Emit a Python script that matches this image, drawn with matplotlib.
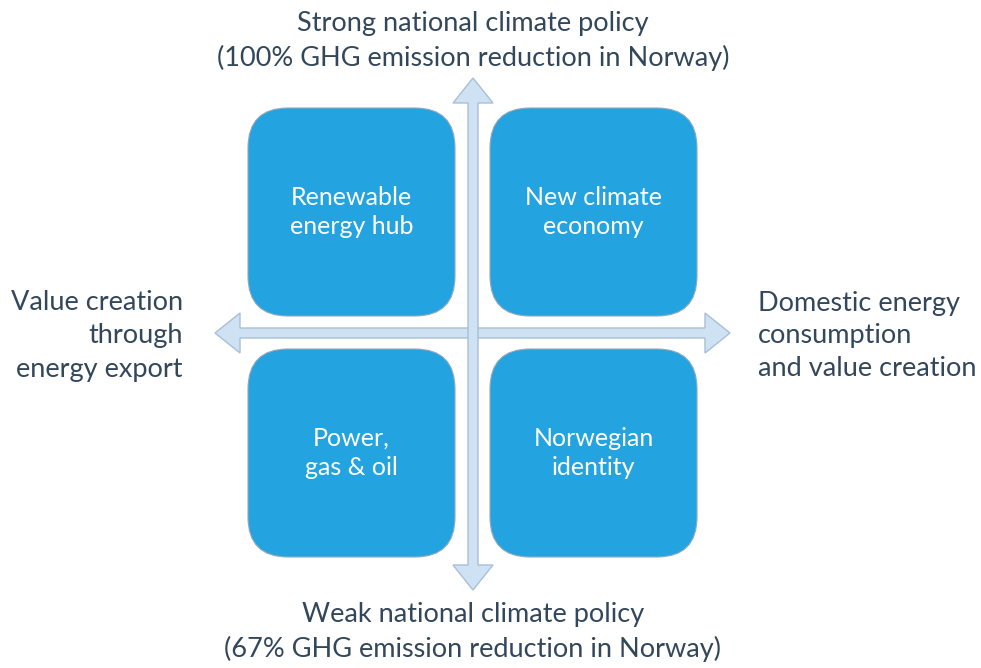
import matplotlib
matplotlib.use("Agg")
import matplotlib.pyplot as plt
from matplotlib.patches import FancyBboxPatch, Polygon

plt.rcParams["font.family"] = ["Lato", "DejaVu Sans"]

# Data: quadrant scenarios and axis labels
quadrant_labels = ["Renewable\nenergy hub", "New climate\neconomy",
                   "Power,\ngas & oil", "Norwegian\nidentity"]
quadrant_pos = [(0, 0), (1, 0), (0, 1), (1, 1)]  # (col, row)
top_label = "Strong national climate policy\n(100% GHG emission reduction in Norway)"
bottom_label = "Weak national climate policy\n(67% GHG emission reduction in Norway)"
left_label = "Value creation\nthrough\nenergy export"
right_label = "Domestic energy\nconsumption\nand value creation"

box_color = "#23A3E0"
box_edge = "#8FA9BF"
arrow_fill = "#CFE2F4"
arrow_edge = "#A8BFD5"
text_color = "#33475B"

W, H = 981, 668
fig = plt.figure(figsize=(W / 100, H / 100), dpi=100)
ax = fig.add_axes([0, 0, 1, 1])
ax.set_xlim(0, W)
ax.set_ylim(H, 0)
ax.axis("off")

cx, cy = 473, 333


def double_arrow(ax, x0, y0, x1, y1, shaft=10, head_w=40, head_l=25):
    # polygon of a two-headed arrow, horizontal or vertical
    hs, hw = shaft / 2, head_w / 2
    if y0 == y1:
        pts = [(x0, y0), (x0 + head_l, y0 - hw), (x0 + head_l, y0 - hs),
               (x1 - head_l, y0 - hs), (x1 - head_l, y0 - hw), (x1, y0),
               (x1 - head_l, y0 + hw), (x1 - head_l, y0 + hs),
               (x0 + head_l, y0 + hs), (x0 + head_l, y0 + hw)]
    else:
        pts = [(x0, y0), (x0 - hw, y0 + head_l), (x0 - hs, y0 + head_l),
               (x0 - hs, y1 - head_l), (x0 - hw, y1 - head_l), (x0, y1),
               (x0 + hw, y1 - head_l), (x0 + hs, y1 - head_l),
               (x0 + hs, y0 + head_l), (x0 + hw, y0 + head_l)]
    ax.add_patch(Polygon(pts, closed=True, facecolor=arrow_fill,
                         edgecolor=arrow_edge, linewidth=1.0, zorder=2))


double_arrow(ax, 215, cy, 730, cy)
double_arrow(ax, cx, 78, cx, 590)

# quadrant boxes
bw, bh = 207, 208
x_starts = [248, 490]
y_starts = [108, 349]
for label, (col, row) in zip(quadrant_labels, quadrant_pos):
    x, y = x_starts[col], y_starts[row]
    ax.add_patch(FancyBboxPatch((x, y), bw, bh,
                                boxstyle="round,pad=0,rounding_size=40",
                                facecolor=box_color, edgecolor=box_edge,
                                linewidth=0.8, zorder=3))
    ax.text(x + bw / 2, y + 104, label, ha="center", va="center",
            color="white", fontsize=18, linespacing=1.32, zorder=4)

ax.text(cx, 41, top_label, ha="center", va="center", color=text_color,
        fontsize=19.5, linespacing=1.4)
ax.text(cx, 632, bottom_label, ha="center", va="center", color=text_color,
        fontsize=19.5, linespacing=1.4)
ax.text(183, 336, left_label, ha="right", va="center", color=text_color,
        fontsize=19.5, linespacing=1.4)
ax.text(758, 336, right_label, ha="left", va="center", color=text_color,
        fontsize=19.5, linespacing=1.4)

fig.savefig("out.png", dpi=100)
